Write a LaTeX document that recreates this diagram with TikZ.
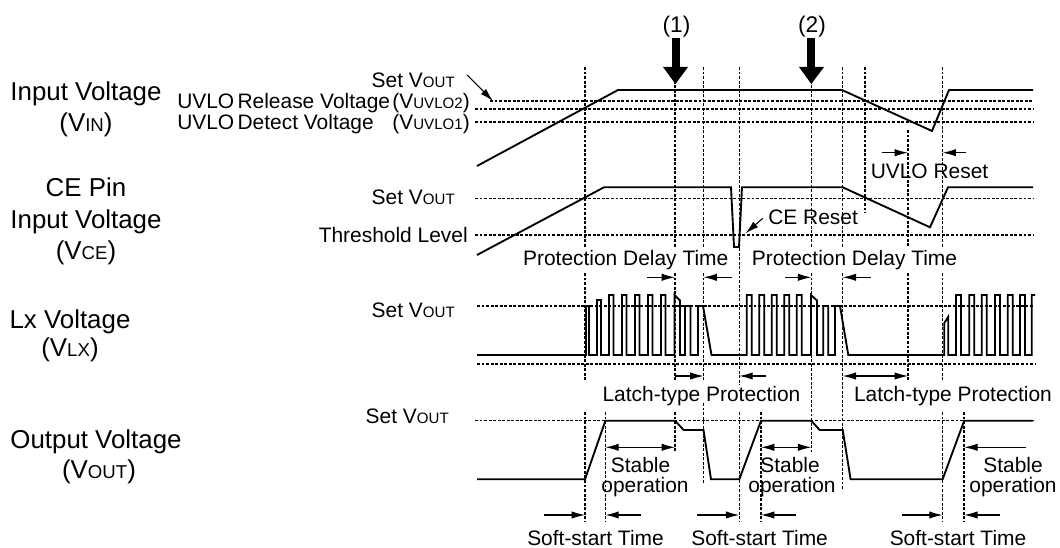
\documentclass[tikz,border=0pt]{standalone}
\usepackage{fontspec}
\setmainfont{Liberation Sans}
\usepackage{graphicx}
\usetikzlibrary{arrows.meta}
\newcommand{\lowtxt}[1]{\scalebox{0.72}{#1}}
\begin{document}
\begin{tikzpicture}[x=0.75pt,y=-0.75pt,
  wave/.style={line width=1.4pt, line join=miter},
  hdash/.style={line width=0.8pt, dash pattern=on 2.2pt off 1.2pt},
  vdash/.style={line width=1.1pt, dash pattern=on 2.2pt off 1.2pt},
  tipd/.tip={Latex[length=10pt,width=5.5pt]},
  dimarr/.style={line width=0.8pt, -tipd},
  dimboth/.style={line width=0.8pt, tipd-tipd},
  big/.style={font=\fontsize{19.4}{22}\selectfont, inner sep=0pt},
  med/.style={font=\fontsize{15.7}{18}\selectfont, inner sep=0pt},
]
\useasboundingbox (0,0) rectangle (1060,548);

% ---- left big labels
\node[big, anchor=base] (l1a) at (86,100.5) {Input Voltage};
\node[big, anchor=base] (l1b) at (86,132) {(V\lowtxt{IN})};
\node[big, anchor=base] (l2a) at (86,196.7) {CE Pin};
\node[big, anchor=base] (l2b) at (86,228.3) {Input Voltage};
\node[big, anchor=base] (l2c) at (86,260) {(V\lowtxt{CE})};
\node[big, anchor=base] (l3a) at (70,328.5) {Lx Voltage};
\node[big, anchor=base] (l3b) at (70,357) {(V\lowtxt{LX})};
\node[big, anchor=base] (l4a) at (96,448.5) {Output Voltage};
\node[big, anchor=base] (l4b) at (99,479) {(V\lowtxt{OUT})};

% ---- level labels
\node[med, anchor=base east] (setin) at (455,87.3) {Set V\lowtxt{OUT}};
\node[med, anchor=base west] (rel) at (177,108.5) {UVLO\hspace{2.5pt}Release Voltage};
\node[med, anchor=base east] (relv) at (470,108.5) {(V\lowtxt{UVLO2})};
\node[med, anchor=base west] (det) at (177,130) {UVLO\hspace{2.5pt}Detect Voltage};
\node[med, anchor=base east] (detv) at (470,130) {(V\lowtxt{UVLO1})};
\node[med, anchor=base east] (setce) at (455,205) {Set V\lowtxt{OUT}};
\node[med, anchor=base east] (thr) at (468,243) {Threshold Level};
\node[med, anchor=base east] (setlx) at (455,318) {Set V\lowtxt{OUT}};
\node[med, anchor=base east] (setout) at (449,424) {Set V\lowtxt{OUT}};

% ---- event labels
\node[med, font=\fontsize{17}{20}\selectfont, anchor=base] (n1) at (676.5,32.5) {(1)};
\node[med, font=\fontsize{17}{20}\selectfont, anchor=base] (n2) at (812,32.5) {(2)};
\node[med, anchor=base west] (cer) at (768,225) {CE Reset};
\node[med, anchor=base] (uvr) at (929.5,179) {UVLO Reset};
\node[med, anchor=base] (pd1) at (625.7,266) {Protection Delay Time};
\node[med, anchor=base] (pd2) at (854.5,266) {Protection Delay Time};
\node[med, anchor=base] (lt1) at (701.5,402) {Latch-type Protection};
\node[med, anchor=base] (lt2) at (953,402) {Latch-type Protection};
\node[med, anchor=base] (st1) at (640.6,472.5) {Stable};
\node[med, anchor=base] (op1) at (645,493) {operation};
\node[med, anchor=base] (st2) at (790,472.5) {Stable};
\node[med, anchor=base] (op2) at (792,493) {operation};
\node[med, anchor=base] (st3) at (1013,472.5) {Stable};
\node[med, anchor=base] (op3) at (1013,493) {operation};
\node[med, anchor=base] (ss1) at (595.5,545) {Soft-start Time};
\node[med, anchor=base] (ss2) at (759.6,545) {Soft-start Time};
\node[med, anchor=base] (ss3) at (958,545) {Soft-start Time};

% ---- horizontal dashed levels
\draw[hdash] (490,101) -- (1033,101);
\draw[hdash] (475,109) -- (1033,109);
\draw[hdash] (475,122) -- (1033,122);
\draw[hdash] (475,198.3) -- (1033,198.3);
\draw[hdash] (475,235) -- (1033,235);
\draw[hdash] (477,306) -- (1033,306);
\draw[hdash] (477,364) -- (1035,364);
\draw[hdash] (475,420.7) -- (1033,420.7);

% ---- vertical dashed timing lines
\foreach \x/\a/\b in {585/67/247, 585/273/380, 585/412/522,
  605.4/412/522,
  675/67/247, 675/273/380, 675/412/452,
  703.5/67/247, 703.5/273/380, 703.5/403/483,
  739.3/67/385, 739.3/412/522,
  761/412/522,
  811.3/67/247, 811.3/273/452,
  842.7/67/247, 842.7/273/490,
  865/67/213,
  908/130/247, 908/273/380,
  942.6/67/247, 942.6/273/380, 942.6/412/522,
  964.2/412/522}
  \draw[vdash] (\x,\a) -- (\x,\b);

% ---- waveforms
\draw[wave] (477,166) -- (618,90) -- (842,90) -- (932,131) -- (949,90) -- (1033,90);
\draw[wave] (477,255) -- (604,187.3) -- (731,187.3) -- (734,247) -- (739,247) -- (742,187.3)
  -- (842.7,187.3) -- (930,227.3) -- (948,187.3) -- (1033,187.3);
\draw[wave] (477,355) -- (586,355) -- (586,306) -- (589,306) -- (589,355)
  -- (597,355) -- (597,300) -- (601,300) -- (601,355)
  \foreach \p in {609,622,635,648,661} { -- (\p,355) -- (\p,295) -- (\p+4.5,295) -- (\p+4.5,355) }
  -- (674.5,355) -- (674.5,295) -- (680,300.5) -- (680,355)
  -- (685,355) -- (685,306) -- (690.5,306) -- (690.5,355)
  -- (698,355) -- (698,306) -- (703,306) -- (711.5,355)
  \foreach \p in {746.7,759.3,771.7,784.3,796.7} { -- (\p,355) -- (\p,295) -- (\p+5,295) -- (\p+5,355) }
  -- (811,355) -- (811,295) -- (817,300.5) -- (817,355)
  -- (823.3,355) -- (823.3,306) -- (828.3,306) -- (828.3,355)
  -- (835,355) -- (835,306) -- (840,306) -- (848.3,355)
  -- (944.3,355) -- (944.3,323) -- (948.3,316.7) -- (948.3,355)
  \foreach \p in {956,969.3,981.7,995,1007.7,1020} { -- (\p,355) -- (\p,295) -- (\p+5,295) -- (\p+5,355) }
  -- (1031.7,355) -- (1031.7,295) -- (1035,295);
\draw[wave] (477,479.3) -- (585,479.3) -- (605.4,420.7) -- (675,420.7) -- (683.6,430) -- (703.5,430)
  -- (711,479.3) -- (739.3,479.3) -- (761,420.7) -- (811.3,420.7) -- (819.6,430) -- (842.7,430)
  -- (850.6,479.3) -- (942.6,479.3) -- (964.2,420.7) -- (1033,420.7);

% ---- big event arrows
\fill (671.5,38) rectangle (679.5,68);
\fill (663,67) -- (688,67) -- (675.5,84) -- cycle;
\fill (807.3,38) rectangle (815.3,68);
\fill (799,67) -- (824,67) -- (811.3,84) -- cycle;

% ---- pointers and dimension arrows
\draw[dimarr] (467,75) -- (493,101);
\draw[dimarr] (762.8,218.3) -- (745.5,233.3);
\draw[dimarr] (881.6,152.7) -- (908,152.7);
\draw[dimarr] (966,152.7) -- (942.6,152.7);
\draw[dimarr] (647.4,277.3) -- (675,277.3);
\draw[dimarr] (731.8,277.3) -- (703.5,277.3);
\draw[dimarr] (785,277.3) -- (811.3,277.3);
\draw[dimarr] (871,277.3) -- (842.7,277.3);
\draw[dimarr] (675,376) -- (703.5,376);
\draw[dimarr] (766,376) -- (739.3,376);
\draw[dimboth] (842.7,376) -- (908,376);
\draw[dimboth] (605.4,447.3) -- (675,447.3);
\draw[dimboth] (761,447.3) -- (811.3,447.3);
\draw[dimarr] (1026,447.3) -- (964.2,447.3);
\draw[dimarr] (544,515) -- (585,515);
\draw[dimarr] (641,515) -- (605.4,515);
\draw[dimarr] (697.3,515) -- (739.3,515);
\draw[dimarr] (795.5,515) -- (761,515);
\draw[dimarr] (902,515) -- (942.6,515);
\draw[dimarr] (1000.4,515) -- (964.2,515);
\end{tikzpicture}
\end{document}
